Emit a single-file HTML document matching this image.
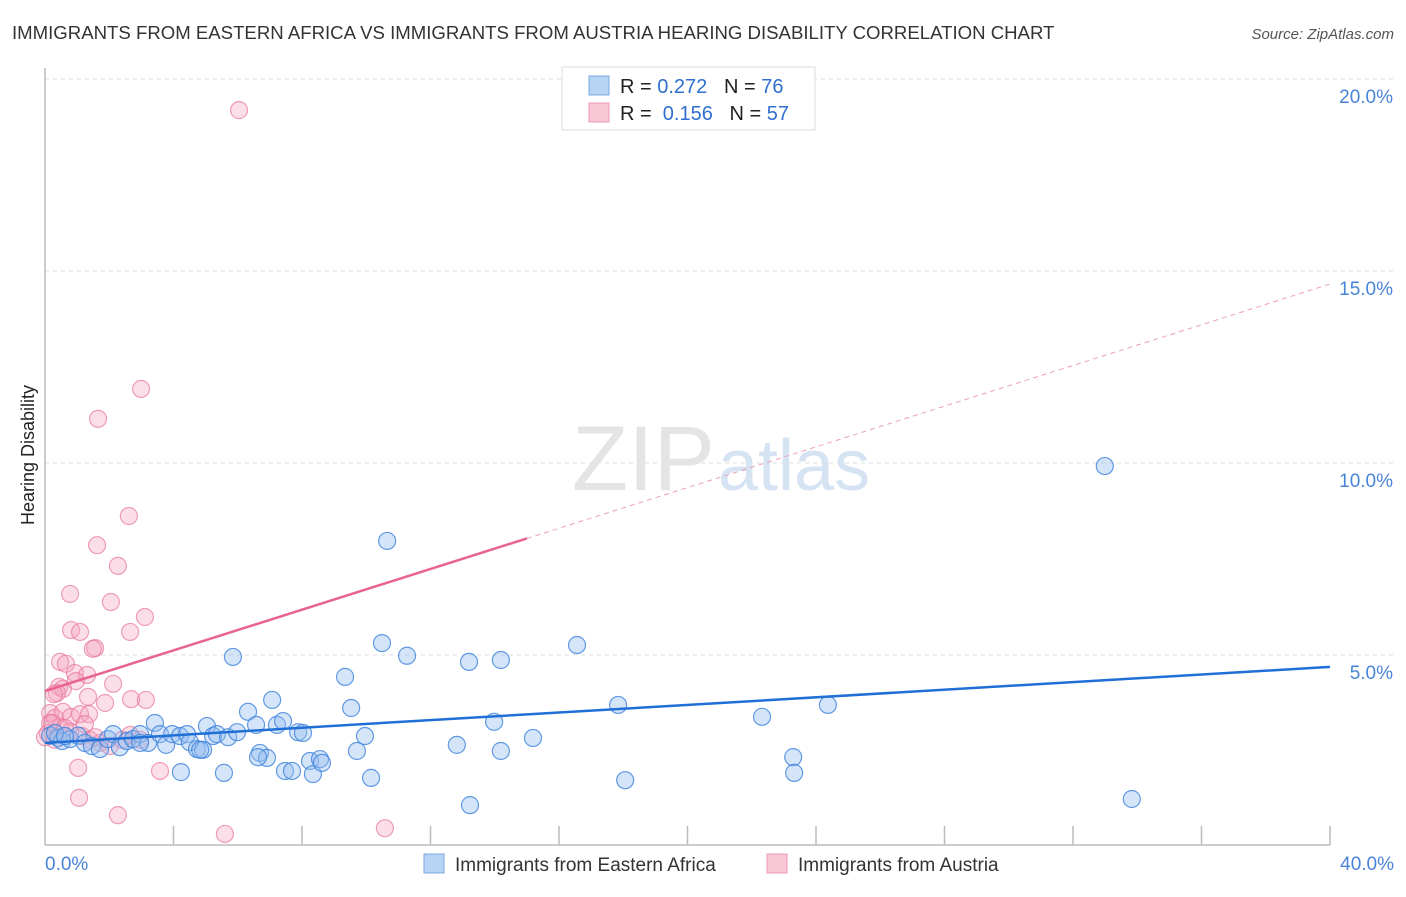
<!DOCTYPE html>
<html><head><meta charset="utf-8"><style>
body{margin:0;background:#fff;font-family:"Liberation Sans",sans-serif;}
svg text{font-family:"Liberation Sans",sans-serif;}
</style></head><body>
<svg id="chart" width="1406" height="892">
<text x="12" y="39" font-size="18.6" fill="#333">IMMIGRANTS FROM EASTERN AFRICA VS IMMIGRANTS FROM AUSTRIA HEARING DISABILITY CORRELATION CHART</text>
<text x="1394" y="39" font-size="15" fill="#555" font-style="italic" text-anchor="end">Source: ZipAtlas.com</text>
<text transform="translate(34,455) rotate(-90)" font-size="18" fill="#222" text-anchor="middle">Hearing Disability</text>
<g id="grid"></g>
<text x="715" y="490" font-size="92" fill="#e4e4e4" font-family="Liberation Serif" text-anchor="end">ZIP</text>
<text x="718" y="490" font-size="72" fill="#d5e3f3">atlas</text>
<g id="pts"></g>
<g id="lines"></g>
<g>
<rect x="562" y="67" width="253" height="63" fill="#fff" stroke="#ddd"/>
<rect x="589" y="76" width="20" height="19" fill="#b8d4f4" stroke="#7aa8e0"/>
<rect x="589" y="103" width="20" height="19" fill="#f9c8d6" stroke="#ee9ab2"/>
<text x="620" y="93" font-size="20" fill="#222">R = <tspan fill="#2f6fd0">0.272</tspan>&#160;&#160;&#160;N = <tspan fill="#2f6fd0">76</tspan></text>
<text x="620" y="120" font-size="20" fill="#222">R = &#160;<tspan fill="#2f6fd0">0.156</tspan>&#160;&#160;&#160;N = <tspan fill="#2f6fd0">57</tspan></text>
</g>
<g>
<rect x="424" y="854" width="20" height="19" fill="#b8d4f4" stroke="#7aa8e0"/>
<text x="455" y="871" font-size="19" fill="#333">Immigrants from Eastern Africa</text>
<rect x="767" y="854" width="20" height="19" fill="#f9c8d6" stroke="#ee9ab2"/>
<text x="798" y="871" font-size="19" fill="#333">Immigrants from Austria</text>
</g>
<text x="45" y="870" font-size="19" fill="#4a84d8">0.0%</text>
<text x="1394" y="870" font-size="19" fill="#4a84d8" text-anchor="end">40.0%</text>
</svg>
<script>
const yTicks=[5,10,15,20];
const yTickLabels=["5.0%","10.0%","15.0%","20.0%"];
const bx=[0.16,0.41,0.53,0.78,1.03,1.24,1.46,1.71,1.96,2.12,2.33,2.55,2.74,2.96,3.21,3.42,3.58,3.77,3.96,4.23,4.2,4.42,4.51,4.73,4.92,5.04,5.23,5.35,5.57,5.70,5.85,5.98,6.32,6.57,6.69,6.91,7.07,7.22,7.41,7.47,7.69,7.88,8.03,8.25,8.34,8.56,8.62,9.34,9.53,9.71,9.96,10.15,10.49,10.65,11.27,12.82,13.20,13.23,13.98,14.19,14.19,15.19,16.56,17.84,18.06,22.32,23.29,23.32,24.37,32.99,33.83,0.31,0.62,2.96,4.83,6.63];
const by=[2.9,2.84,2.76,2.81,2.9,2.71,2.63,2.55,2.81,2.94,2.6,2.76,2.81,2.94,2.71,3.23,2.94,2.66,2.94,1.95,2.89,2.94,2.73,2.55,2.53,3.15,2.89,2.94,1.93,2.86,4.95,2.99,3.52,3.18,2.45,2.32,3.83,3.18,3.28,1.98,1.98,2.99,2.97,2.24,1.9,2.29,2.19,4.43,3.62,2.5,2.89,1.8,5.31,7.97,4.98,2.66,4.82,1.09,3.26,4.87,2.5,2.84,5.26,3.7,1.74,3.39,2.34,1.93,3.7,9.92,1.25,2.97,2.89,2.71,2.53,2.34];
const px=[6.04,2.99,1.65,2.61,1.62,2.27,0.78,2.05,3.11,0.81,1.09,2.65,1.56,1.49,0.47,0.65,0.93,1.31,0.44,0.56,0.37,2.12,0.96,0.28,1.34,1.87,2.68,3.14,0.16,0.31,0.56,0.81,1.09,1.37,0.16,0.47,0.78,1.15,1.40,1.71,2.02,2.40,2.65,2.96,1.03,3.58,1.06,2.27,5.60,10.58,0.09,0.22,0.62,0,0.31,1.56,1.24];
const py=[19.19,11.93,11.15,8.62,7.86,7.32,6.59,6.38,5.99,5.65,5.60,5.60,5.18,5.16,4.82,4.77,4.53,4.48,4.17,4.12,4.01,4.25,4.32,3.98,3.91,3.75,3.85,3.83,3.49,3.36,3.52,3.39,3.46,3.46,3.23,3.13,3.0,2.89,2.79,2.71,2.63,2.79,2.92,2.79,2.06,1.98,1.28,0.83,0.34,0.49,2.96,3.23,3.1,2.86,2.79,2.86,3.20];
const blueFit=[2.71,4.69];
const pinkFit=[4.06,14.66];
const X=v=>45+v*32.125, Y=v=>847-v*38.4;
const NS='http://www.w3.org/2000/svg';
function mk(tag,attrs,parent){const e=document.createElementNS(NS,tag);for(const k in attrs)e.setAttribute(k,attrs[k]);parent.appendChild(e);return e;}
const grid=document.getElementById('grid');
yTicks.forEach((t,i)=>{
 const l=mk('line',{x1:45,x2:1394,y1:Y(t),y2:Y(t),stroke:'#ddd','stroke-dasharray':'4,4'},grid);
 
 
 const tx=mk('text',{x:1393,y:Y(t)+24,'font-size':19,fill:'#4a84d8','text-anchor':'end'},grid);
 tx.textContent=yTickLabels[i];
 
 
});
const ax=mk('line',{x1:45,x2:1330,y1:845,y2:845,stroke:'#bbb','stroke-width':1.5},grid);


const ay=mk('line',{x1:45,x2:45,y1:68,y2:845,stroke:'#bbb','stroke-width':1.5},grid);


for(let i=1;i<=10;i++){
 const t=mk('line',{x1:X(i*4),x2:X(i*4),y1:826,y2:845,stroke:'#bbb','stroke-width':1.5},grid);
 
 
}
const pts=document.getElementById('pts');
px.forEach((v,i)=>{
 const c=mk('circle',{cx:X(v),cy:Y(py[i]),r:8.5,fill:'rgba(244,160,188,0.35)',stroke:'rgba(232,120,155,0.7)','stroke-width':1.2},pts);
 
 
});
bx.forEach((v,i)=>{
 const c=mk('circle',{cx:X(v),cy:Y(by[i]),r:8.5,fill:'rgba(150,190,240,0.4)',stroke:'rgba(60,130,220,0.8)','stroke-width':1.2},pts);
 
 
});
const lines=document.getElementById('lines');
const bl=mk('line',{x1:X(0),y1:Y(blueFit[0]),x2:X(40),y2:Y(blueFit[1]),stroke:'#1f6fd6','stroke-width':2.5},lines);


const pf=x=>pinkFit[0]+(pinkFit[1]-pinkFit[0])*x/40;
const pl=mk('line',{x1:X(0),y1:Y(pf(0)),x2:X(15),y2:Y(pf(15)),stroke:'#e8648e','stroke-width':2.5},lines);


const pd=mk('line',{x1:X(15),y1:Y(pf(15)),x2:X(40),y2:Y(pf(40)),stroke:'#eba0b8','stroke-width':1,'stroke-dasharray':'5,4'},lines);


</script>
</body></html>
